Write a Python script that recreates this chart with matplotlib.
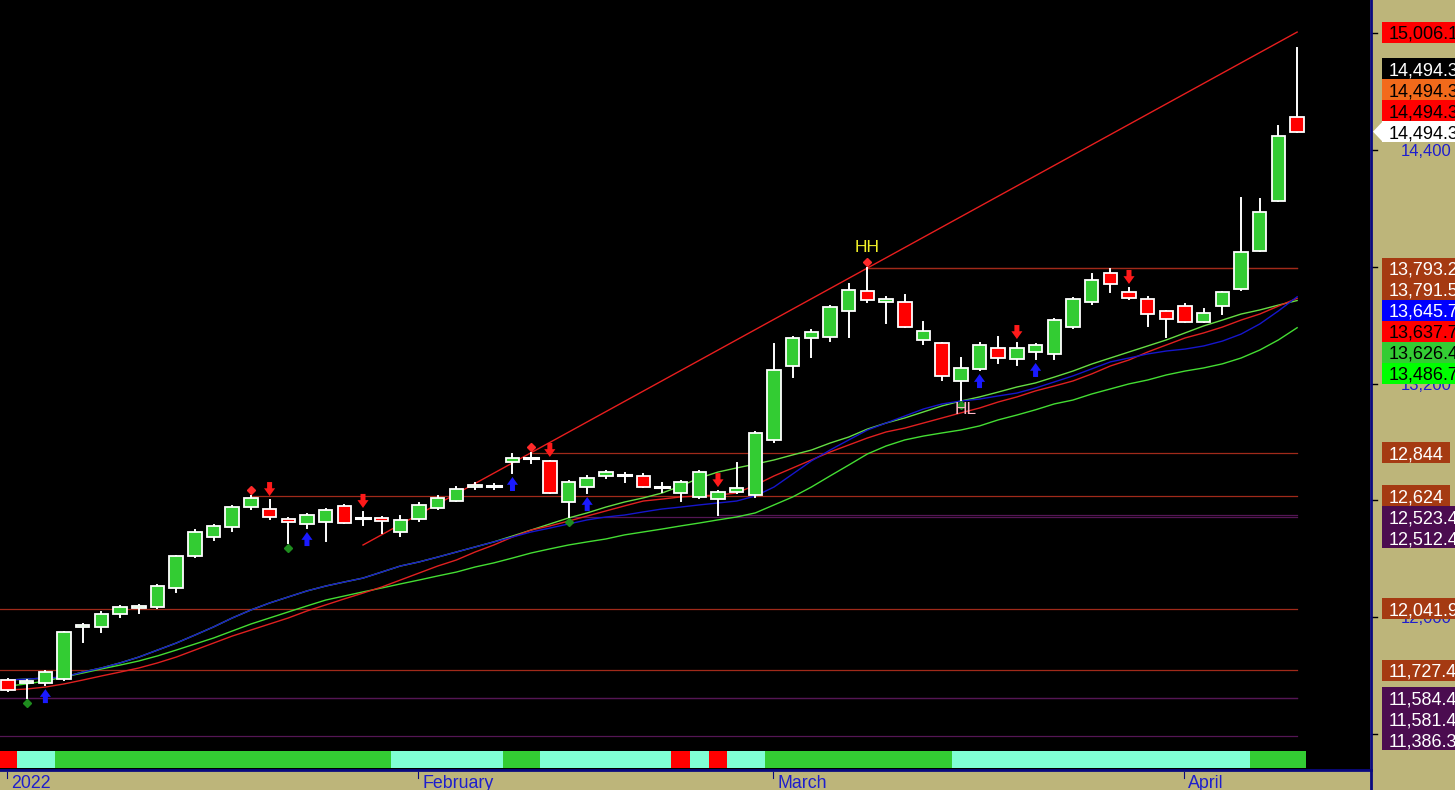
import matplotlib
matplotlib.use('Agg')
import matplotlib.pyplot as plt
from matplotlib.patches import Rectangle, Polygon
from matplotlib import transforms

plt.rcParams['font.family'] = ['Liberation Sans', 'DejaVu Sans']

# daily candles (index 0 = first session of 2022)
opens = [11676, 11661, 11661, 11681, 11949, 11949, 12015, 12046, 12051, 12149,
         12313, 12411, 12463, 12565, 12555, 12504, 12478, 12488, 12570, 12511,
         12509, 12437, 12504, 12560, 12596, 12668, 12673, 12797, 12815, 12802,
         12591, 12668, 12725, 12732, 12725, 12666, 12637, 12617, 12606, 12642,
         12627, 12910, 13290, 13434, 13439, 13573, 13675, 13619, 13619, 13424,
         13408, 13213, 13275, 13382, 13326, 13362, 13352, 13490, 13619, 13768,
         13670, 13634, 13573, 13598, 13516, 13598, 13686, 13881, 14138, 14570]
highs = [11681, 11676, 11722, 11923, 11964, 12026, 12057, 12062, 12165, 12313,
         12447, 12473, 12570, 12624, 12601, 12509, 12529, 12555, 12576, 12540,
         12514, 12519, 12586, 12622, 12668, 12689, 12684, 12838, 12844, 12802,
         12699, 12725, 12750, 12740, 12735, 12689, 12699, 12750, 12647, 12791,
         12951, 13403, 13439, 13475, 13598, 13711, 13793.2, 13645, 13655, 13516,
         13408, 13331, 13408, 13439, 13408, 13403, 13531, 13639, 13763, 13788,
         13691, 13645, 13573, 13609, 13583, 13670, 14153, 14148, 14523, 14924]
lows = [11620, 11584.4, 11650, 11676, 11871, 11923, 12000, 12021, 12046, 12128,
        12308, 12396, 12442, 12555, 12504, 12380, 12457, 12391, 12483, 12473,
        12432, 12416, 12493, 12555, 12596, 12658, 12658, 12740, 12792, 12637,
        12512.4, 12637, 12714, 12694, 12668, 12642, 12596, 12612, 12523.4, 12637,
        12617, 12899, 13233, 13336, 13418, 13439, 13619, 13511, 13490, 13403,
        13218, 13115, 13269, 13305, 13295, 13326, 13326, 13485, 13609, 13670,
        13634, 13496, 13439, 13516, 13516, 13557, 13681, 13881, 14138, 14494.3]
closes = [11625, 11671, 11717, 11923, 11959, 12015, 12051, 12057, 12159, 12313,
          12437, 12468, 12565, 12612, 12514, 12488, 12524, 12550, 12483, 12511,
          12493, 12498, 12576, 12612, 12658, 12678, 12673, 12817, 12815, 12637,
          12694, 12714, 12745, 12732, 12668, 12666, 12694, 12745, 12642, 12663,
          12946, 13269, 13434, 13465, 13593, 13680, 13629, 13634, 13490, 13470,
          13239, 13280, 13398, 13331, 13382, 13398, 13526, 13634, 13732, 13711,
          13639, 13557, 13532, 13516, 13562, 13670, 13876, 14081, 14472, 14494.3]

# averages
ma_blue = [11676, 11681, 11686, 11691, 11717, 11738, 11764, 11794, 11830, 11866,
           11907, 11949, 11995, 12036, 12072, 12103, 12134, 12159, 12180, 12200,
           12231, 12262, 12283, 12308, 12334, 12360, 12386, 12411, 12437, 12457,
           12478, 12499, 12514, 12524, 12540, 12555, 12565, 12576, 12586, 12596,
           12622, 12668, 12735, 12802, 12858, 12910, 12961, 12997, 13033, 13069,
           13095, 13110, 13120, 13136, 13151, 13177, 13208, 13239, 13275, 13311,
           13331, 13352, 13367, 13377, 13393, 13418, 13454, 13506, 13573, 13645.7]
ma_lime = [11676, 11681, 11686, 11691, 11717, 11738, 11764, 11794, 11830, 11866,
           11907, 11949, 11995, 12036, 12072, 12103, 12134, 12159, 12180, 12200,
           12231, 12262, 12283, 12308, 12334, 12360, 12386, 12416, 12447, 12478,
           12509, 12535, 12565, 12591, 12612, 12637, 12673, 12714, 12745, 12766,
           12786, 12807, 12833, 12858, 12894, 12925, 12966, 12997, 13023, 13054,
           13085, 13110, 13131, 13156, 13182, 13203, 13233, 13264, 13300, 13331,
           13362, 13393, 13424, 13460, 13496, 13526, 13557, 13578, 13603, 13626.4]
ma_red = [11625, 11630, 11640, 11656, 11676, 11697, 11717, 11738, 11764, 11794,
          11830, 11866, 11902, 11933, 11964, 11995, 12031, 12062, 12093, 12123,
          12154, 12190, 12226, 12262, 12293, 12334, 12370, 12411, 12447, 12468,
          12493, 12519, 12545, 12571, 12596, 12606, 12617, 12622, 12627, 12637,
          12678, 12725, 12766, 12807, 12848, 12884, 12920, 12951, 12971, 12997,
          13023, 13049, 13074, 13105, 13131, 13162, 13187, 13213, 13249, 13290,
          13321, 13362, 13398, 13434, 13460, 13490, 13526, 13557, 13598, 13637.7]
ma_green = [11645, 11656, 11671, 11692, 11712, 11733, 11753, 11774, 11800, 11830,
            11861, 11892, 11928, 11964, 11995, 12026, 12057, 12087, 12108, 12129,
            12149, 12170, 12190, 12211, 12231, 12257, 12278, 12303, 12329, 12350,
            12370, 12386, 12401, 12422, 12437, 12452, 12468, 12483, 12499, 12514,
            12535, 12576, 12617, 12668, 12725, 12781, 12838, 12879, 12910, 12930,
            12946, 12961, 12982, 13013, 13038, 13065, 13095, 13115, 13146, 13172,
            13198, 13218, 13244, 13264, 13280, 13301, 13331, 13372, 13424, 13486.7]

# trend state strip under the candles
state = ['r', 'a', 'a'] + ['g'] * 18 + ['a'] * 6 + ['g'] * 2 + ['a'] * 7 + \
        ['r', 'a', 'r', 'a', 'a'] + ['g'] * 10 + ['a'] * 16 + ['g'] * 3

red_arrows = [14, 19, 29, 38, 54, 60]
blue_arrows = [2, 16, 27, 31, 52, 55]
red_diamonds = [13, 28, 46]
green_diamonds = [1, 15, 30, 51]

trend_idx = [19, 69]
trend_val = [12370, 15006.1]

levels = [13793.2, 13791.5, 12844, 12624, 12523.4, 12512.4, 12041.9, 11727.4, 11584.4, 11581.4, 11386.3]
level_start = [46, 46, 28, 13, 38, 30, None, None, None, None, None]
level_kind = ['r', 'r', 'r', 'r', 's', 's', 'r', 'r', 's', 's', 's']

month_idx = [0, 22, 41, 63]
month_labels = ['2022', 'February', 'March', 'April']
price_ticks = [15000, 14400, 13800, 13200, 12600, 12000, 11400]

BROWN = '#A53A12'
PURPLE = '#4B0C50'
GREEN = '#33CC33'
TAN = '#BDB57A'
NAVY = '#0A0A80'
TXTBLUE = '#1E1ECD'

fig = plt.figure(figsize=(14.55, 7.9), dpi=100, facecolor=TAN)
ax = fig.add_axes([0, 20 / 790, 1370 / 1455, 770 / 790], facecolor='black')
ax.set_xlim(-0.43, 72.9)
ax.set_ylim(11213.7, 15170.9)
for s in ax.spines.values():
    s.set_visible(False)
ax.set_xticks([])
ax.set_yticks([])
n = len(closes)
xs = list(range(n))

# level lines
for v, st, k in zip(levels, level_start, level_kind):
    x0 = -0.5 if st is None else st
    ax.plot([x0, n - 1], [v, v], color='#A02A1A' if k == 'r' else '#541654', lw=0.9, zorder=1)

# averages
ax.plot(xs, ma_green, color='#44DD33', lw=1.0, zorder=2)
ax.plot(xs, ma_lime, color='#66DD44', lw=1.0, zorder=2)
ax.plot(xs, ma_red, color='#E02020', lw=1.0, zorder=2)
ax.plot(xs, ma_blue, color='#1616CC', lw=1.0, zorder=2)

# trend line
ax.plot(trend_idx, trend_val, color='#E81E1E', lw=1.0, zorder=2)

# candles
w = 0.72
for i in xs:
    o, h, l, c = opens[i], highs[i], lows[i], closes[i]
    ax.plot([i, i], [l, h], color='white', lw=1.4, zorder=3)
    if o == c:
        ax.plot([i - w / 2, i + w / 2], [c, c], color='white', lw=2.2, zorder=4)
        continue
    fc = GREEN if c > o else '#FF0000'
    ax.add_patch(Rectangle((i - w / 2, min(o, c)), w, abs(c - o), fc=fc, ec='white', lw=1.3, zorder=4))

# signals
for i in red_arrows:
    ax.annotate('', xy=(i, highs[i]), xycoords=transforms.offset_copy(ax.transData, fig=fig, y=4, units='dots'),
                xytext=(0, 14), textcoords='offset pixels',
                arrowprops=dict(arrowstyle='simple,head_length=0.7,head_width=1.0,tail_width=0.45',
                                mutation_scale=8, fc='#FF1A1A', ec='none', shrinkA=0, shrinkB=0), zorder=5)
for i in blue_arrows:
    ax.annotate('', xy=(i, lows[i]), xycoords=transforms.offset_copy(ax.transData, fig=fig, y=-4, units='dots'),
                xytext=(0, -14), textcoords='offset pixels',
                arrowprops=dict(arrowstyle='simple,head_length=0.7,head_width=1.0,tail_width=0.45',
                                mutation_scale=8, fc='#1A1AFF', ec='none', shrinkA=0, shrinkB=0), zorder=5)
up6 = transforms.offset_copy(ax.transData, fig=fig, y=6, units='dots')
dn5 = transforms.offset_copy(ax.transData, fig=fig, y=-5, units='dots')
ax.plot(red_diamonds, [highs[i] for i in red_diamonds], 'D', ms=4.5, color='#FF2A2A', transform=up6, zorder=5)
ax.plot(green_diamonds, [lows[i] for i in green_diamonds], 'D', ms=4.5, color='#1E8C1E', transform=dn5, zorder=5)
ax.text(46, highs[46], 'HH', color='#F0F028', fontsize=12.5, ha='center', va='center',
        transform=transforms.offset_copy(ax.transData, fig=fig, y=21, units='dots'), zorder=6)
ax.text(51, lows[51], 'HL', color='#FFB4C4', fontsize=12.5, ha='center', va='center',
        transform=transforms.offset_copy(ax.transData, fig=fig, x=5, y=-9, units='dots'), zorder=6)

# state strip
strip_col = {'r': '#FF0000', 'a': '#7FFFD4', 'g': GREEN}
ax.bar(xs, [0.022] * n, width=1.0, bottom=0.0026, color=[strip_col[s] for s in state],
       transform=ax.get_xaxis_transform(), zorder=3)

# date axis
tr = transforms.blended_transform_factory(ax.transData, fig.transFigure)
for x, lab in zip(month_idx, month_labels):
    ax.plot([x - 0.04, x - 0.04], [18 / 790, 12 / 790], color=NAVY, lw=0.8, transform=tr, clip_on=False)
    ax.text(x, 2 / 790, lab, color=TXTBLUE, fontsize=12.8, ha='left', va='baseline', clip_on=False,
            transform=tr + transforms.ScaledTranslation(3 / 100, 0, fig.dpi_scale_trans))

# right price panel in pixel coordinates
axr = fig.add_axes([0, 0, 1, 1], facecolor='none', zorder=10)
axr.set_xlim(0, 1455)
axr.set_ylim(0, 790)
axr.axis('off')


def py(v):
    return ax.transData.transform((0, v))[1]


renderer = fig.canvas.get_renderer()
H = 21
boxes = []


def tag(y, txt, fc, tc):
    t = axr.text(1389, y - 6.5, txt, color=tc, fontsize=13, ha='left', va='baseline', zorder=3)
    bb = t.get_window_extent(renderer)
    axr.add_patch(Rectangle((1382, y - H / 2), bb.x1 + 6 - 1382, H, fc=fc, ec='none', zorder=2))
    boxes.append(y)


def fmt(v):
    return f'{v:,.0f}' if float(v).is_integer() else f'{v:,.1f}'


tags = [(trend_val[-1], '#FF0000', 'black'),
        (levels[0], BROWN, 'white'), (levels[1], BROWN, 'white'),
        (ma_blue[-1], '#0000FF', 'white'), (ma_red[-1], '#FF0000', 'black'),
        (ma_lime[-1], GREEN, 'black'), (ma_green[-1], '#00FF00', 'black')]
for v, k in zip(levels[2:], level_kind[2:]):
    tags.append((v, BROWN if k == 'r' else PURPLE, 'white'))
tags.sort(key=lambda t: -t[0])
prev = None
for v, fc, tc in tags:
    y = py(v)
    if prev is not None and y > prev - H:
        y = prev - H
    tag(y, fmt(v), fc, tc)
    prev = y

# last price, with its stacked copies above it
yc = py(closes[-1])
axr.add_patch(Polygon([(1373, yc), (1383, yc + H / 2), (1383, yc - H / 2)], closed=True, fc='white', ec='none'))
tag(yc, fmt(closes[-1]), 'white', 'black')
for k, (fc, tc) in enumerate([('#FF0000', 'black'), ('#F26A1B', 'black'), ('black', 'white')]):
    tag(yc + H * (k + 1), fmt(closes[-1]), fc, tc)

# price scale ticks; labels sit under the value tags
for v in price_ticks:
    y = py(v)
    axr.plot([1371, 1377], [y, y], color='black', lw=1)
    if any(abs(b - y) < 7 for b in boxes):
        continue
    axr.text(1452, y - 6, f'{v:,}', color=TXTBLUE, fontsize=12, ha='right', va='baseline', zorder=1)

axr.plot([1371, 1371], [0, 790], color=NAVY, lw=2)
axr.plot([0, 1371], [20, 20], color=NAVY, lw=2)

fig.savefig('out.png', dpi=100, facecolor=TAN)
